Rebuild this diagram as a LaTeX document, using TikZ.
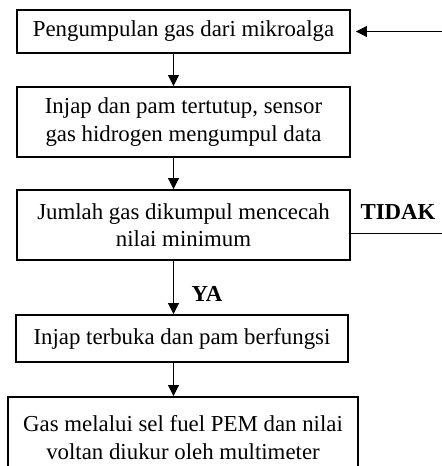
\documentclass[tikz,border=0pt]{standalone}
\usepackage{fontspec}
\setmainfont{Liberation Serif}
\usetikzlibrary{arrows.meta, positioning}

\begin{document}
\begin{tikzpicture}[
  procbox/.style={rectangle, draw=black, line width=1.1pt, inner sep=0pt, align=center, font=\fontsize{13}{15.5}\selectfont},
  flow/.style={-{Triangle[length=0.22cm,width=0.22cm]}, line width=0.55pt},
  answer/.style={font=\fontsize{13}{15.5}\selectfont\bfseries}
]
\useasboundingbox (0,0) rectangle (8.84,-9.32);

% Process steps
\node[procbox, minimum width=6.66cm, minimum height=0.86cm] (collect) at (3.67,-0.63) {Pengumpulan gas dari mikroalga};
\node[procbox, minimum width=6.66cm, minimum height=1.4cm] (sensor) at (3.67,-2.44) {Injap dan pam tertutup, sensor\\gas hidrogen mengumpul data};
\node[procbox, minimum width=6.66cm, minimum height=1.4cm] (check) at (3.67,-4.5) {Jumlah gas dikumpul mencecah\\nilai minimum};
\node[procbox, minimum width=6.64cm, minimum height=0.94cm] (pump) at (3.64,-6.77) {Injap terbuka dan pam berfungsi};
\node[procbox, minimum width=7.0cm, minimum height=1.62cm] (measure) at (3.66,-8.75) {Gas melalui sel fuel PEM dan nilai\\voltan diukur oleh multimeter};

% Decision labels
\node[answer] (no) at (7.96,-4.24) {TIDAK};
\node[answer] (yes) at (4.14,-5.88) {YA};

% Connections
\coordinate (spine) at (3.47,0);
\coordinate (loopback) at (9.3,-0.63);
\draw[flow] (collect.south -| spine) -- (sensor.north -| spine);
\draw[flow] (sensor.south -| spine) -- (check.north -| spine);
\draw[flow] (check.south -| spine) -- (pump.north -| spine);
\draw[flow] (pump.south -| spine) -- (measure.north -| spine);
\draw[flow, shorten >=0.1cm] ([yshift=-0.16cm]check.east) -| (loopback) |- (collect.east);
\end{tikzpicture}
\end{document}
